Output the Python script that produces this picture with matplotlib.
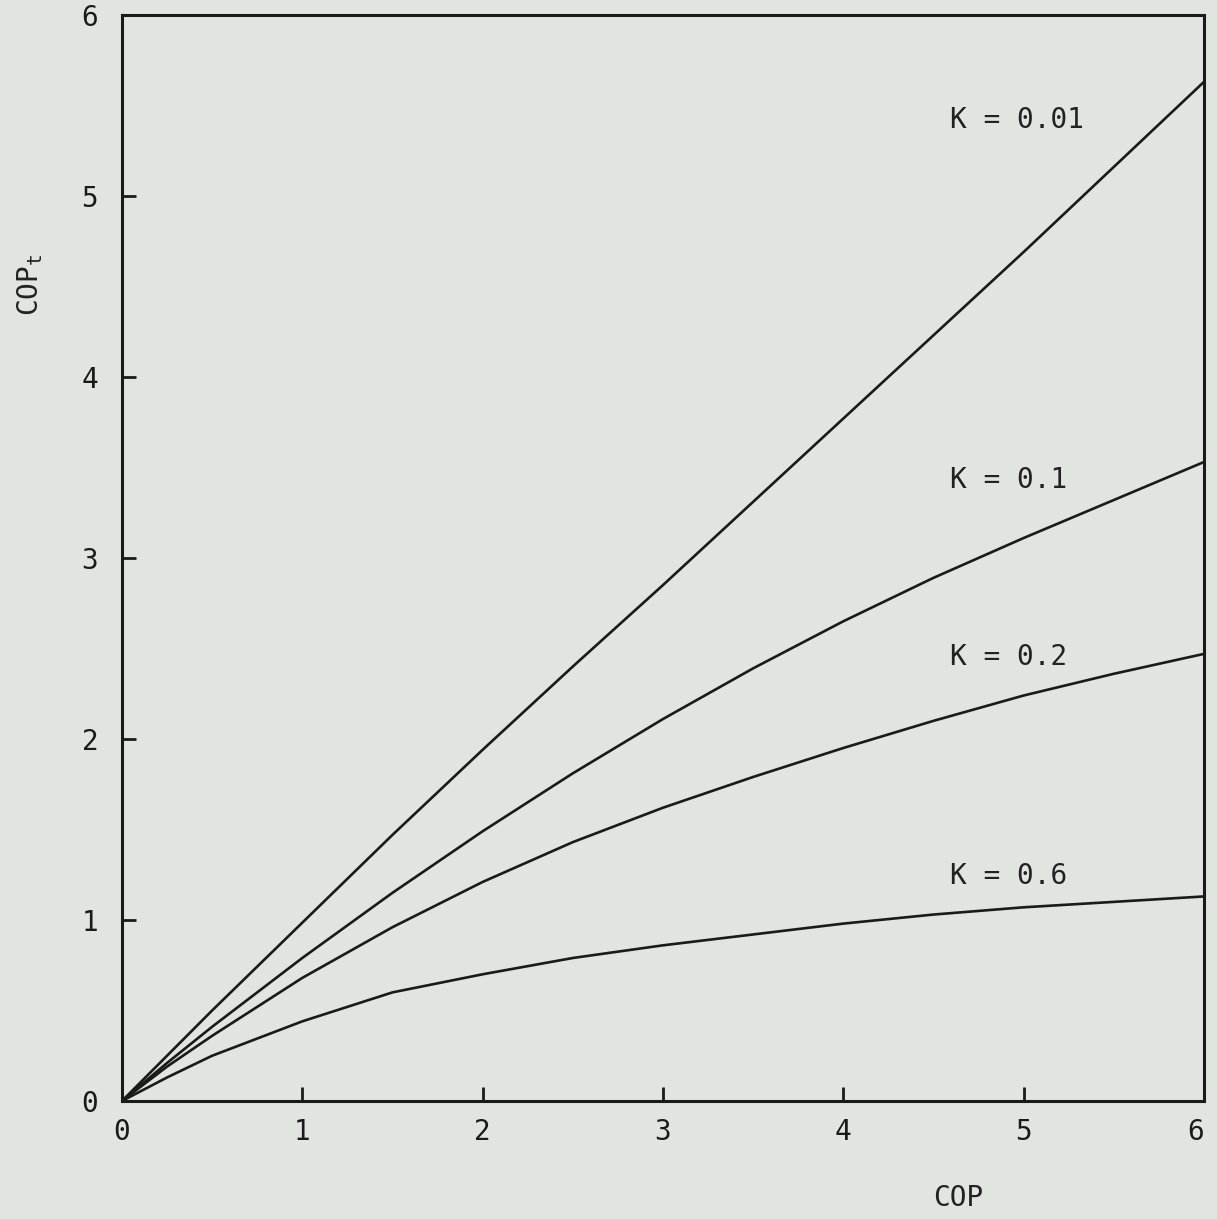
import matplotlib
matplotlib.use("Agg")
import matplotlib.pyplot as plt

# valores
cop = [0, 0.25, 0.5, 1, 1.5, 2, 2.5, 3, 3.5, 4, 4.5, 5, 5.5, 6]
cop_k001 = [0, 0.25, 0.50, 0.985, 1.47, 1.94, 2.40, 2.85, 3.31, 3.77, 4.23, 4.69, 5.16, 5.63]
cop_k01 = [0, 0.21, 0.41, 0.79, 1.15, 1.49, 1.81, 2.11, 2.39, 2.65, 2.89, 3.11, 3.32, 3.53]
cop_k02 = [0, 0.19, 0.36, 0.68, 0.96, 1.21, 1.43, 1.62, 1.79, 1.95, 2.10, 2.24, 2.36, 2.47]
cop_k06 = [0, 0.13, 0.25, 0.44, 0.60, 0.70, 0.79, 0.86, 0.92, 0.98, 1.03, 1.07, 1.10, 1.13]

labels = ["K = 0.01", "K = 0.1", "K = 0.2", "K = 0.6"]
label_y = [5.42, 3.43, 2.45, 1.245]

plt.rcParams['font.family'] = ['DejaVu Sans Mono', 'DejaVu Sans']
plt.rcParams['mathtext.default'] = 'regular'

bg = '#e1e5df'
fig = plt.figure(figsize=(12.17, 12.19), dpi=100, facecolor=bg)
ax = fig.add_axes([0.1002, 0.0968, 0.8891, 0.891])
ax.set_facecolor(bg)

for serie in [cop_k001, cop_k01, cop_k02, cop_k06]:
    ax.plot(cop, serie, color='#1a1a1a', lw=1.9)

for txt, yy in zip(labels, label_y):
    ax.text(4.59, yy, txt, fontsize=20, ha='left', va='center', color='#222222')

ax.set_xlim(0, 6)
ax.set_ylim(0, 6)
ax.set_xticks(range(7))
ax.set_yticks(range(7))
ax.tick_params(direction='in', length=10, width=2, labelsize=20, colors='#1a1a1a')
ax.tick_params(axis='x', pad=12)
ax.tick_params(axis='y', pad=17)
ax.get_xticklabels()[-1].set_ha('right')
for s in ax.spines.values():
    s.set_linewidth(2.2)
    s.set_color('#1a1a1a')

fig.text(958 / 1217, 1 - 1198 / 1219, "COP", fontsize=20, ha='center', va='center', color='#222222')
fig.text(30 / 1217, 1 - 285 / 1219, "COP$_t$", fontsize=20, rotation=90,
         ha='center', va='center', color='#222222')

fig.savefig("out.png", dpi=100, facecolor=bg)
